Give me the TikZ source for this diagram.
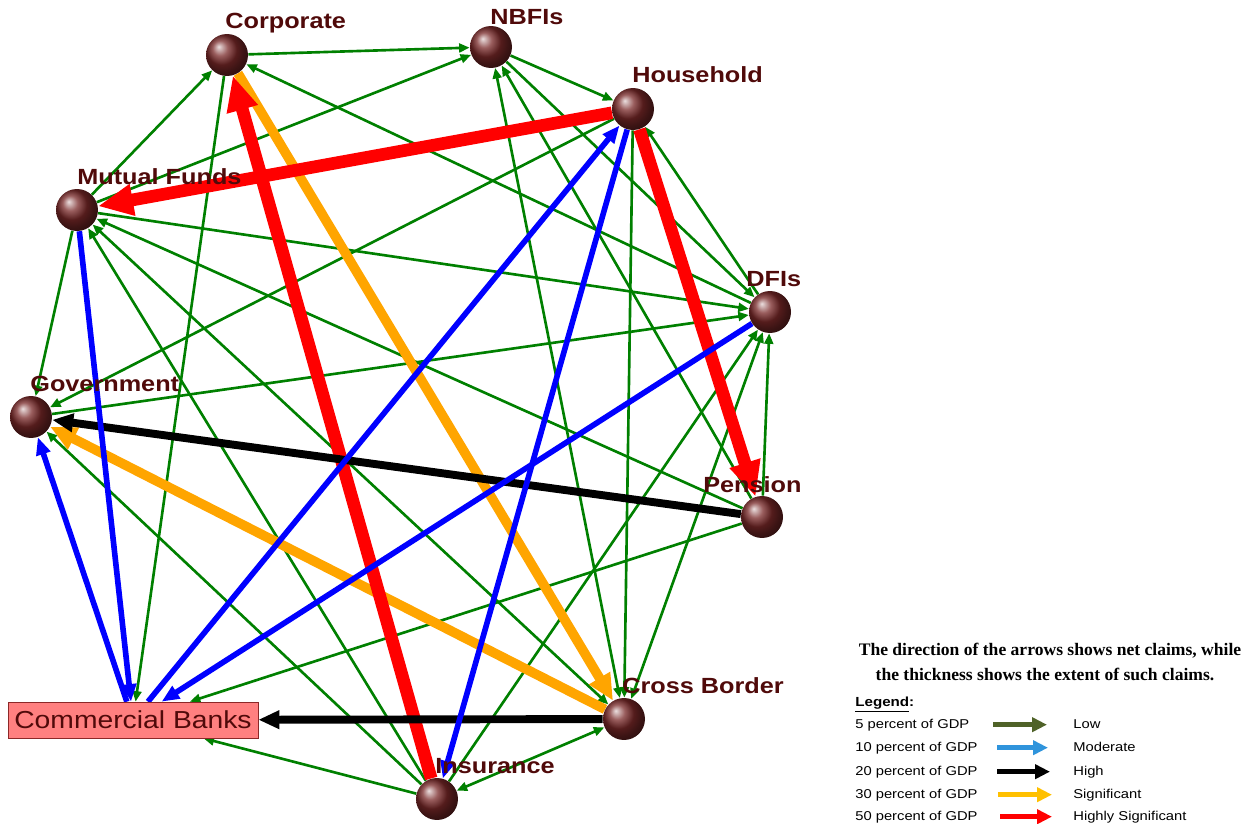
\documentclass[tikz,border=0pt]{standalone}
\usepackage{fontspec}
\setmainfont{Liberation Serif}
\newfontfamily\lblfont[FakeStretch=1.15]{Liberation Sans}
\usetikzlibrary{positioning, arrows.meta}
\pgfdeclarelayer{bg}
\pgfsetlayers{bg,main}

\definecolor{lblred}{RGB}{80,10,10}
\definecolor{sphcol}{RGB}{120,40,40}
\definecolor{bankfill}{RGB}{255,128,128}
\definecolor{bankline}{RGB}{140,40,40}
\definecolor{grn}{RGB}{0,128,0}
\definecolor{blu}{RGB}{0,0,255}
\definecolor{orng}{RGB}{255,165,0}
\definecolor{lowcol}{RGB}{79,98,40}
\definecolor{modcol}{RGB}{47,148,220}
\definecolor{sigcol}{RGB}{255,192,0}

\tikzstyle{sphere} = [circle, minimum size=0.84cm, inner sep=0pt, ball color=sphcol]
\tikzstyle{lbl} = [inner sep=0pt, text=lblred, font=\lblfont\bfseries\fontsize{12.5pt}{14pt}\selectfont]
\tikzstyle{bank} = [rectangle, draw=bankline, fill=bankfill, minimum width=5cm, minimum height=0.72cm, inner sep=0pt, text=lblred, font=\lblfont\fontsize{14pt}{16pt}\selectfont]
\tikzstyle{lowclaim} = [draw=grn, line width=1.5pt, -{Triangle[length=6pt,width=5pt]}]
\tikzstyle{lowboth} = [lowclaim, {Triangle[length=6pt,width=5pt]}-{Triangle[length=6pt,width=5pt]}]
\tikzstyle{modclaim} = [draw=blu, line width=3.2pt, -{Triangle[length=10pt,width=8pt]}]
\tikzstyle{highclaim} = [draw=black, line width=4.5pt, -{Triangle[length=12pt,width=10pt]}]
\tikzstyle{sigclaim} = [draw=orng, line width=5.5pt, -{Triangle[length=15pt,width=13pt]}]
\tikzstyle{hsigclaim} = [draw=red, line width=7.2pt, -{Triangle[length=20pt,width=17pt]}]
\tikzstyle{legtitle} = [inner sep=0pt, font=\bfseries\fontsize{10pt}{12pt}\selectfont]
\tikzstyle{legtext} = [inner sep=0pt, anchor=base west, font=\lblfont\fontsize{7.3pt}{9pt}\selectfont]
\tikzstyle{legarrow} = [line width=2.8pt, -{Triangle[length=8.5pt,width=8pt]}]

\begin{document}
\begin{tikzpicture}[x=0.02cm, y=-0.02cm]
        \useasboundingbox (0,0) rectangle (1255,824);

        % sectors
        \node (Co) [sphere] at (227,55) {};
        \node (NB) [sphere] at (491,47) {};
        \node (HH) [sphere] at (633,109) {};
        \node (MF) [sphere] at (77,210) {};
        \node (DFI) [sphere] at (770,312) {};
        \node (Gov) [sphere] at (31,417) {};
        \node (Pen) [sphere] at (762,517) {};
        \node (CrB) [sphere] at (624,719) {};
        \node (Ins) [sphere] at (437,799) {};
        \node (CB) [bank] at (133,720) {Commercial Banks};

        \node (CoL) [lbl, anchor=base west] at ([shift={(-2,-26)}]Co.center) {Corporate};
        \node (NBL) [lbl, anchor=base west] at ([shift={(-1,-22)}]NB.center) {NBFIs};
        \node (HHL) [lbl, anchor=base west] at ([shift={(-1,-26)}]HH.center) {Household};
        \node (MFL) [lbl, anchor=base west] at ([shift={(0,-25)}]MF.center) {Mutual Funds};
        \node (DFIL) [lbl, anchor=base west] at ([shift={(-24,-25)}]DFI.center) {DFIs};
        \node (GovL) [lbl, anchor=base west] at ([shift={(-1,-25)}]Gov.center) {Government};
        \node (PenL) [lbl, anchor=base west] at ([shift={(-59,-25)}]Pen.center) {Pension};
        \node (CrBL) [lbl, anchor=base west] at ([shift={(-2,-26)}]CrB.center) {Cross Border};
        \node (InsL) [lbl, anchor=base west] at ([shift={(-2,-26)}]Ins.center) {Insurance};

        \begin{pgfonlayer}{bg}
        % 5 percent
        \draw [lowclaim] (Co) -- (NB);
        \draw [lowclaim] (MF) -- (Co);
        \draw [lowclaim] (DFI) -- (Co);
        \draw [lowclaim] (Co) -- (CB);
        \draw [lowclaim] (MF) -- (NB);
        \draw [lowclaim] (NB) -- (HH);
        \draw [lowclaim] (NB) -- (DFI);
        \draw [lowclaim] (Pen) -- (NB);
        \draw [lowboth] (CrB) -- (NB);
        \draw [lowclaim] (DFI) -- (HH);
        \draw [lowclaim] (HH) -- (Gov);
        \draw [lowclaim] (HH) -- (CrB);
        \draw [lowclaim] (MF) -- (DFI);
        \draw [lowclaim] (MF) -- (Gov);
        \draw [lowclaim] (Pen) -- (MF);
        \draw [lowboth] (CrB) -- (MF);
        \draw [lowclaim] (Ins) -- (MF);
        \draw [lowclaim] (Gov) -- (DFI);
        \draw [lowclaim] (Pen) -- (DFI);
        \draw [lowboth] (CrB) -- (DFI);
        \draw [lowclaim] (Ins) -- (DFI);
        \draw [lowclaim] (Ins) -- (Gov);
        \draw [lowclaim] (Pen) -- (CB);
        \draw [lowboth] (Ins) -- (CrB);
        \draw [lowclaim] (Ins) -- (CB);
        % 30 and 50 percent
        \draw [sigclaim] (Co) -- (CrB);
        \draw [sigclaim] (CrB) -- (Gov);
        \draw [hsigclaim] (Ins) -- (Co);
        \draw [hsigclaim] (HH) -- (MF);
        \draw [hsigclaim] (HH) -- (Pen);
        % 20 percent
        \draw [highclaim] (Pen) -- (Gov);
        \draw [highclaim] (CrB) -- (CB);
        % 10 percent
        \draw [modclaim] (CB) -- (HH);
        \draw [modclaim] (HH) -- (Ins);
        \draw [modclaim] (DFI) -- (CB);
        \draw [modclaim] (MF) -- (CB);
        \draw [modclaim] (CB) -- (Gov);
        \end{pgfonlayer}

        % legend
        \node (T1) [legtitle, anchor=base] at (1050,655) {The direction of the arrows shows net claims, while};
        \node (T2) [legtitle, anchor=base] at (1045,680) {the thickness shows the extent of such claims.};
        \node (Leg) [legtext, font=\lblfont\bfseries\fontsize{7.5pt}{9pt}\selectfont] at (855,706) {\underline{Legend}:};
        \node (P1) [legtext] at (855,728) {5 percent of GDP};
        \node (P2) [legtext] at (855,751) {10 percent of GDP};
        \node (P3) [legtext] at (855,775) {20 percent of GDP};
        \node (P4) [legtext] at (855,798) {30 percent of GDP};
        \node (P5) [legtext] at (855,820) {50 percent of GDP};
        \node (V1) [legtext] at (1073,728) {Low};
        \node (V2) [legtext] at (1073,751) {Moderate};
        \node (V3) [legtext] at (1073,775) {High};
        \node (V4) [legtext] at (1073,798) {Significant};
        \node (V5) [legtext] at (1073,820) {Highly Significant};

        \draw [legarrow, lowcol] (993,0 |- P1.east) -- (1047,0 |- P1.east);
        \draw [legarrow, modcol] (997,0 |- P2.east) -- (1048,0 |- P2.east);
        \draw [legarrow, black] (997,0 |- P3.east) -- (1050,0 |- P3.east);
        \draw [legarrow, sigcol] (998,0 |- P4.east) -- (1052,0 |- P4.east);
        \draw [legarrow, red] (1000,0 |- P5.east) -- (1052,0 |- P5.east);

\end{tikzpicture}
\end{document}
